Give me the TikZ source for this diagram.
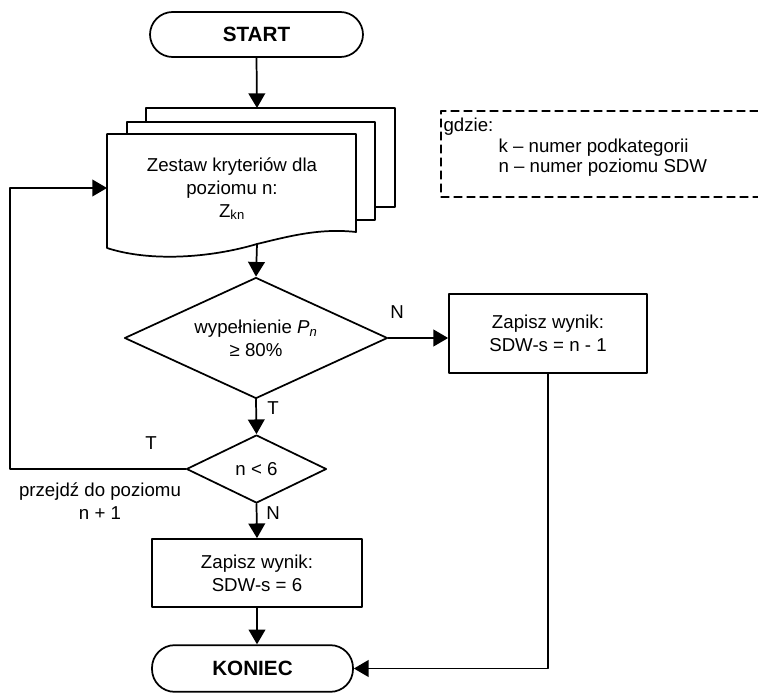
\documentclass[tikz,border=0pt]{standalone}
\usepackage{fontspec}
\setmainfont{Liberation Sans}
\usetikzlibrary{arrows.meta,shapes.geometric}

\begin{document}
\begin{tikzpicture}[x=0.75pt, y=-0.75pt, line cap=round, line join=round,
    every node/.style={font=\fontsize{14}{17}\selectfont},
    terminal/.style={draw, line width=1.3pt, rounded corners=17pt, inner sep=0pt,
      font=\fontsize{15.5}{18}\selectfont\bfseries},
    process/.style={draw, line width=1.3pt, inner sep=0pt, align=center},
    decision/.style={draw, diamond, line width=1.3pt, inner sep=0pt, align=center},
    sheet/.style={draw, fill=white, line width=1.3pt},
    link/.style={line width=1.3pt, -{Triangle[length=11pt, width=12.5pt]}},
    lbl/.style={inner sep=1pt}]
  \useasboundingbox (0,0) rectangle (758,696);
  % terminals
  \node[terminal, minimum width=159.75pt, minimum height=33.75pt] (start) at (256.5,34.5) {START};
  \node[terminal, minimum width=150.75pt, minimum height=35pt] (koniec) at (252.5,668.5) {KONIEC};
  % stack of sheets
  \draw[sheet] (146,108) rectangle (395,207);
  \draw[sheet] (127,122) rectangle (375,220);
  \draw[sheet] (107,134) -- (356,134) -- (356,232)
    .. controls (320,228) and (290,236) .. (257,244)
    .. controls (210,258) and (150,262) .. (107,248) -- cycle;
  \coordinate (stacktop) at (257,108);
  \coordinate (docout) at (257,244);
  \coordinate (docin) at (107,188);
  \node[align=center] (crit) at (232,189) {Zestaw kryteriów dla\\poziomu n:\\Z\textsubscript{kn}};
  % decisions
  \node[decision, aspect=2.17, minimum width=197.25pt, minimum height=90.75pt] (fill) at (256,338)
    {wypełnienie \textit{P}\textsubscript{\textit{n}}\\≥ 80\%};
  \node[decision, aspect=2.06, minimum width=105pt, minimum height=51pt] (lvl) at (256.5,469) {n < 6};
  % results
  \node[process, minimum width=148.5pt, minimum height=59.25pt] (resn) at (548,333.5)
    {Zapisz wynik:\\SDW-s = n - 1};
  \node[process, minimum width=157.5pt, minimum height=51pt] (res6) at (257,573)
    {Zapisz wynik:\\SDW-s = 6};
  % legend
  \draw[line width=0.9pt, dash pattern=on 6pt off 3.75pt] (758,111) -- (441,111) -- (441,197) -- (758,197);
  \node[lbl, anchor=west] (gdzie) at (442,127) {gdzie:};
  \node[lbl, anchor=west] (legk) at (497,148) {k – numer podkategorii};
  \node[lbl, anchor=west] (legn) at (497,168) {n – numer poziomu SDW};
  % connectors
  \draw[link] (start.south) -- (stacktop);
  \draw[link] (docout) -- (fill.north);
  \draw[link] (fill.east) -- (fill.east -| resn.west);
  \draw[link] (fill.south) -- (lvl.north);
  \draw[link] (lvl.south) -- (res6.north);
  \draw[link] (res6.south) -- (res6.south |- koniec.north);
  \draw[link] (lvl.west) -- (10,469) |- (docin);
  \draw[link] (resn.south) |- (koniec.east);
  % labels
  \node[lbl] (nlab1) at (397,312) {N};
  \node[lbl] (tlab1) at (273,408) {T};
  \node[lbl] (tlab2) at (151,443) {T};
  \node[lbl] (nlab2) at (273,513) {N};
  \node[align=center] (next) at (100,501) {przejdź do poziomu\\n + 1};
\end{tikzpicture}
\end{document}
